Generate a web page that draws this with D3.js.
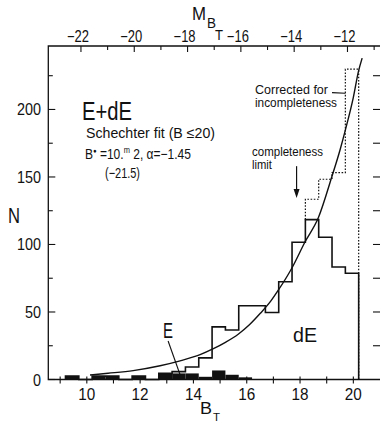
<!DOCTYPE html>
<html><head><meta charset="utf-8">
<script src="https://cdn.jsdelivr.net/npm/d3@7"></script>
<style>
body{margin:0;background:#fff;}
svg{display:block;}
text{font-family:"Liberation Sans","Noto Sans",sans-serif;fill:#111;}
</style>
</head><body>
<svg id="c" width="380" height="421"></svg>
<script>
// ---- data ----
const binStart = 9.2;
const binWidth = 0.5;
// E+dE observed counts per 0.5 mag bin (9.2 ... 20.2)
const totalCounts = [2.5,0,2.5,2.5,0,2.5,0,4.5,5.8,9.3,16,39,36.7,54.6,54.6,49.6,72.4,101.7,118.4,105.3,83.3,78.7];
// E galaxies (black bars), bins starting at 9.2
const ellipticalCounts = [2.5,0,2.5,2.5,0,2.5,0,4.5,4.5,4.5,2,6.7,3.5,1.6];
// corrected for incompleteness (dotted), bins starting at 18.2
const correctedStartBin = 18;
const correctedCounts = [133.5,148.3,153.2,229.8];
// Schechter fit curve
const fitB = [10.12,10.8,11.74,12.75,13.5,14.25,14.75,15.2,15.68,16.1,16.51,16.9,17.19,17.69,18.19,18.69,19.19,19.5,19.69,20.0,20.19,20.33];
const fitN = [3.3,4.6,6.6,10.2,13.8,18.4,22.8,27.5,33.5,40.5,49.0,58,66.3,82.4,102,120,150,170,184,209,228,238];
// axes
const bottomTicks = [9,10,11,12,13,14,15,16,17,18,19,20];
const bottomLabels = [10,12,14,16,18,20];
const topTicksM = [-22,-21,-20,-19,-18,-17,-16,-15,-14,-13,-12,-11];
const topLabelsM = [-22,-20,-18,-16,-14,-12];
const distanceModulus = 31.78;
const yMajor = [0,50,100,150,200];
const yMinor = [25,75,125,175,225];
const rightTicks = [25,50,75,100,125,150,175,200,225];

// ---- scales ----
const svg = d3.select("#c");
const x = d3.scaleLinear().domain([8.555, 21.0]).range([48.3, 380]);
const y = d3.scaleLinear().domain([0, 247]).range([379.5, 46]);
const X0 = x.range()[0], X1 = x.range()[1], Y0 = y.range()[0], Y1 = y.range()[1];

const g = svg.append("g");
function txt(t, px, py, fs, len, anchor){
  const e = g.append("text").attr("x",px).attr("y",py).attr("font-size",fs).text(t);
  if (len) e.attr("textLength", len).attr("lengthAdjust","spacingAndGlyphs");
  if (anchor) e.attr("text-anchor", anchor);
  return e;
}

// ---- frame ----
g.append("path").attr("d", `M${X1+1},${Y1}H${X0}V${Y0}H${X1+1}`).attr("fill","none").attr("stroke","#111").attr("stroke-width",1.3);

// bottom ticks
g.selectAll(".bt").data(bottomTicks).enter().append("line")
  .attr("x1", d=>x(d)).attr("x2", d=>x(d)).attr("y1", Y0-3).attr("y2", Y0+4)
  .attr("stroke","#111").attr("stroke-width",1.1);
bottomLabels.forEach(d => txt(String(d), x(d), 400, 16, 17, "middle"));

// top ticks (M_BT)
const xm = m => x(m + distanceModulus);
g.selectAll(".tt").data(topTicksM).enter().append("line")
  .attr("x1", d=>xm(d)).attr("x2", d=>xm(d)).attr("y1", Y1).attr("y2", d=> Y1 + (d%2===0?6:4))
  .attr("stroke","#111").attr("stroke-width",1.1);
topLabelsM.forEach(d => txt("\u2212"+Math.abs(d), xm(d)-3, 42, 16, 22, "middle"));

// left ticks
g.selectAll(".lt").data(yMajor).enter().append("line")
  .attr("x1", X0).attr("x2", X0+7).attr("y1", d=>y(d)).attr("y2", d=>y(d))
  .attr("stroke","#111").attr("stroke-width",1.1);
g.selectAll(".lm").data(yMinor).enter().append("line")
  .attr("x1", X0).attr("x2", X0+4.5).attr("y1", d=>y(d)).attr("y2", d=>y(d))
  .attr("stroke","#111").attr("stroke-width",1.1);
yMajor.forEach(d => txt(String(d), 41, y(d)+6, 16, String(d).length*8, "end"));
// right ticks
g.selectAll(".rt").data(rightTicks).enter().append("line")
  .attr("x1", 380).attr("x2", 373).attr("y1", d=>y(d)).attr("y2", d=>y(d))
  .attr("stroke","#111").attr("stroke-width",1.1);

// ---- E bars ----
g.selectAll(".eb").data(ellipticalCounts.map((v,i)=>({v,i}))).enter()
  .filter(d=>d.v>0).append("rect")
  .attr("x", d=>x(binStart+d.i*binWidth)).attr("width", d=>x(binStart+(d.i+1)*binWidth)-x(binStart+d.i*binWidth))
  .attr("y", d=>y(d.v)).attr("height", d=>y(0)-y(d.v)).attr("fill","#111");

// ---- step lines ----
function stepPoints(startEdge, vals, startVal, endVal){
  const pts = [[startEdge, startVal]];
  vals.forEach((v,i)=>{ pts.push([startEdge+i*binWidth, v]); pts.push([startEdge+(i+1)*binWidth, v]); });
  pts.push([startEdge+vals.length*binWidth, endVal]);
  return pts;
}
const line = d3.line().x(d=>x(d[0])).y(d=>y(d[1]));
const corrStart = binStart + correctedStartBin*binWidth;
g.append("path").attr("d", line(stepPoints(corrStart, correctedCounts, totalCounts[correctedStartBin], 0)))
  .attr("fill","none").attr("stroke","#111").attr("stroke-width",1.2).attr("stroke-dasharray","1.6,1.6");
g.append("path").attr("d", line(stepPoints(binStart, totalCounts, 0, 0)))
  .attr("fill","none").attr("stroke","#111").attr("stroke-width",1.6);

// ---- Schechter fit curve ----
const fit = fitB.map((b,i)=>[b, fitN[i]]);
g.append("path").attr("d", d3.line().x(d=>x(d[0])).y(d=>y(d[1])).curve(d3.curveMonotoneX)(fit))
  .attr("fill","none").attr("stroke","#111").attr("stroke-width",1.4);

// ---- annotations ----
const arrowB = 17.87;
g.append("line").attr("x1", x(arrowB)).attr("x2", x(arrowB)).attr("y1", y(158)).attr("y2", y(137))
  .attr("stroke","#111").attr("stroke-width",1.2);
g.append("path").attr("d", `M${x(arrowB)-3},${y(141)}L${x(arrowB)+3},${y(141)}L${x(arrowB)},${y(134.5)}Z`).attr("fill","#111");
g.append("line").attr("x1", x(19.2)).attr("y1", y(212.5)).attr("x2", x(19.7)).attr("y2", y(212))
  .attr("stroke","#111").attr("stroke-width",1.1);
g.append("line").attr("x1", x(13.05)).attr("y1", y(28.5)).attr("x2", x(13.5)).attr("y2", y(3.5))
  .attr("stroke","#111").attr("stroke-width",1.1);

txt("E+dE", 82, 120, 25, 50);
txt("Schechter fit  (B \u226420)", 86, 138, 14.5, 129);
// condensed parameter line
const l2 = g.append("text").attr("transform","translate(85,159) scale(0.83,1)").attr("font-size",14.5);
l2.append("tspan").text("B");
l2.append("tspan").attr("dy",-6).attr("font-size",7).text("\u25CF");
l2.append("tspan").attr("dy",6).text(" =10.");
l2.append("tspan").attr("dy",-6).attr("font-size",9).text("m");
l2.append("tspan").attr("dy",6).text(" 2, \u03B1=\u22121.45");
txt("(\u221221.5)", 105, 178, 14.5, 35);
txt("Corrected for", 255, 94, 12.5, 73);
txt("incompleteness", 255, 107, 12.5, 82);
txt("completeness", 252, 156, 12.5, 71);
txt("limit", 252, 169, 12.5, 20);
txt("N", 8, 223, 22, 12);
txt("E", 163, 338, 22, 10);
txt("dE", 293, 342, 21, 24);
txt("M", 192, 20, 18, 14);
txt("B", 207, 28, 15, 9);
txt("T", 215, 40, 14, 8);
txt("B", 200, 414, 17, 12);
txt("T", 213, 420.5, 11, 7);
</script>
</body></html>
